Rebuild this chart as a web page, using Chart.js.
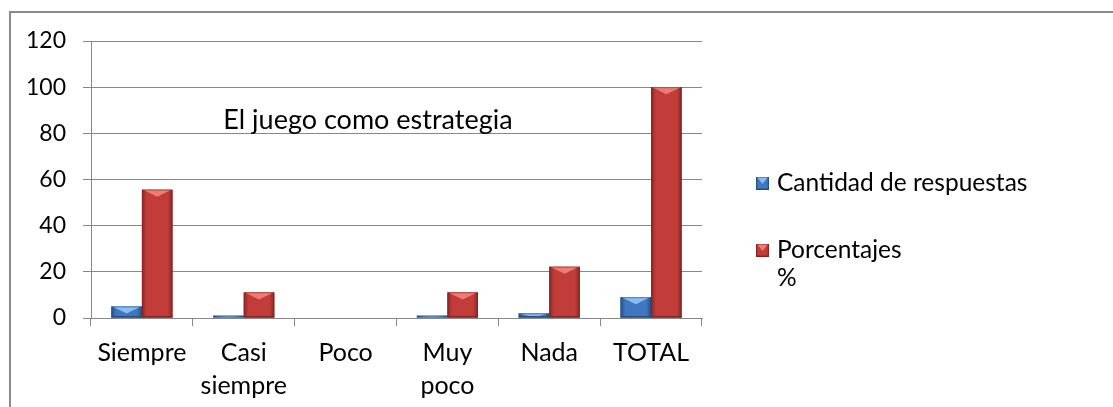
<!DOCTYPE html>
<html>
<head>
<meta charset="utf-8">
<script src="https://cdn.jsdelivr.net/npm/chart.js@4/dist/chart.umd.min.js"></script>
<style>
  html, body { margin: 0; padding: 0; background: #fff; }
  #grafico { display: block; }
</style>
</head>
<body>
<canvas id="grafico" width="1113" height="407"></canvas>
<script>
// datos de la encuesta
const categorias = [["Siempre"], ["Casi", "siempre"], ["Poco"], ["Muy", "poco"], ["Nada"], ["TOTAL"]];
const cantidad = [5, 1, 0, 1, 2, 9];
const porcentajes = [55.6, 11.1, 0, 11.1, 22.2, 100];
const nombresSeries = ["Cantidad de respuestas", "Porcentajes\n%"];
const tituloGrafico = "El juego como estrategia";

const FUENTE = "Lato, 'DejaVu Sans', sans-serif";
const GRIS = "#878787";

const tonos = [
  { medio: "#3f78c0", oscuro: "#255088", claro: "#8cbcef", borde: "#1f4678" },
  { medio: "#c23d3a", oscuro: "#8a2624", claro: "#ee7c76", borde: "#7a1f1d" }
];

// barra con bisel: cuerpo con degradado y una "V" clara arriba
function pintarBarra(ctx, x0, y0, w, h, t) {
  if (h < 0.5) return;
  ctx.save();
  const g = ctx.createLinearGradient(x0, 0, x0 + w, 0);
  g.addColorStop(0, t.oscuro);
  g.addColorStop(0.16, t.medio);
  g.addColorStop(0.84, t.medio);
  g.addColorStop(1, t.oscuro);
  ctx.fillStyle = g;
  ctx.fillRect(x0, y0, w, h);

  const d = Math.min(7, h);
  ctx.fillStyle = t.claro;
  ctx.beginPath();
  ctx.moveTo(x0 + 1, y0);
  ctx.lineTo(x0 + w - 1, y0);
  ctx.lineTo(x0 + w / 2, y0 + d);
  ctx.closePath();
  ctx.fill();

  // borde inferior algo más oscuro
  if (h > 3) {
    ctx.fillStyle = t.oscuro;
    ctx.fillRect(x0, y0 + h - 1.5, w, 1.5);
  }
  ctx.strokeStyle = t.borde;
  ctx.globalAlpha = 0.45;
  ctx.lineWidth = 1;
  ctx.strokeRect(x0 + 0.5, y0 + 0.5, w - 1, Math.max(h - 1, 0));
  ctx.restore();
}

const barrasBisel = {
  id: "barrasBisel",
  afterDatasetsDraw(chart) {
    const ctx = chart.ctx;
    chart.data.datasets.forEach((ds, i) => {
      chart.getDatasetMeta(i).data.forEach(el => {
        const { x, y, base, width } = el.getProps(["x", "y", "base", "width"], true);
        pintarBarra(ctx, x - width / 2, Math.min(y, base), width, Math.abs(base - y), tonos[i]);
      });
    });
  }
};

const marco = {
  id: "marco",
  beforeDraw(chart) {
    const ctx = chart.ctx;
    ctx.save();
    ctx.strokeStyle = "#8a8a8a";
    ctx.lineWidth = 2;
    ctx.strokeRect(10, 12, chart.width + 40, chart.height + 40);
    ctx.restore();
  }
};

const tituloInterno = {
  id: "tituloInterno",
  afterDraw(chart) {
    const ctx = chart.ctx;
    const y = chart.scales.y.getPixelForValue(85.5);
    ctx.save();
    ctx.font = "27px " + FUENTE;
    ctx.fillStyle = "#000";
    ctx.textAlign = "center";
    ctx.textBaseline = "middle";
    ctx.fillText(tituloGrafico, 368, y);
    ctx.restore();
  }
};

const leyenda = {
  id: "leyenda",
  afterDraw(chart) {
    const ctx = chart.ctx;
    const filas = [183, 250];
    ctx.save();
    ctx.font = "24.5px " + FUENTE;
    ctx.textBaseline = "middle";
    chart.data.datasets.forEach((ds, i) => {
      const yc = filas[i];
      pintarBarra(ctx, 756, yc - 6, 13, 13, tonos[i]);
      ctx.fillStyle = "#000";
      ds.label.split("\n").forEach((linea, k) => {
        ctx.fillText(linea, 777, yc + k * 28);
      });
    });
    ctx.restore();
  }
};

new Chart(document.getElementById("grafico"), {
  type: "bar",
  data: {
    labels: categorias,
    datasets: [
      { label: nombresSeries[0], data: cantidad, backgroundColor: tonos[0].medio },
      { label: nombresSeries[1], data: porcentajes, backgroundColor: tonos[1].medio }
    ]
  },
  options: {
    responsive: false,
    animation: false,
    layout: { padding: { left: 0, right: 411, top: 41, bottom: 0 } },
    datasets: { bar: { categoryPercentage: 0.6, barPercentage: 1.0 } },
    plugins: {
      legend: { display: false },
      title: { display: false },
      tooltip: { enabled: false }
    },
    scales: {
      x: {
        afterFit(s) { s.height = 89; },
        grid: { drawOnChartArea: false, tickLength: 8, color: GRIS, offset: true },
        border: { color: GRIS },
        ticks: {
          color: "#000",
          padding: 11,
          maxRotation: 0,
          autoSkip: false,
          font: { family: FUENTE, size: 25, lineHeight: 1.3 }
        }
      },
      y: {
        min: 0,
        max: 120,
        afterFit(s) { s.width = 91; },
        grid: { color: GRIS, tickLength: 8 },
        border: { color: GRIS },
        ticks: {
          stepSize: 20,
          color: "#000",
          padding: 17,
          font: { family: FUENTE, size: 23 }
        }
      }
    }
  },
  plugins: [marco, barrasBisel, tituloInterno, leyenda]
});
</script>
</body>
</html>
